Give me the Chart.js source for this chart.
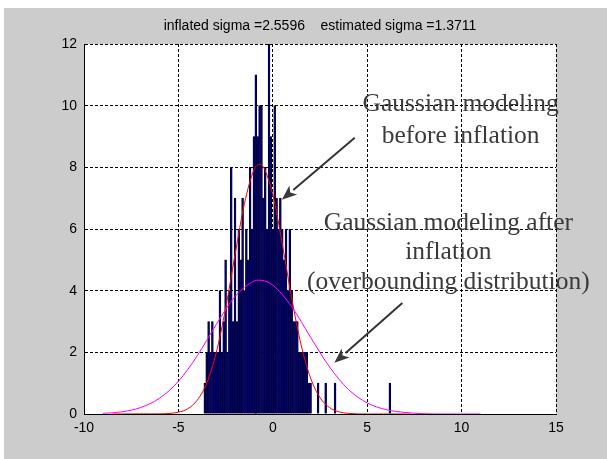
<!DOCTYPE html>
<html>
<head>
<meta charset="utf-8">
<script src="https://cdn.jsdelivr.net/npm/chart.js@4/dist/chart.umd.min.js"></script>
<style>
  body { margin: 0; background: #fff; }
  canvas { display: block; }
</style>
</head>
<body>
<canvas id="myChart" width="607" height="459"></canvas>
<script>
// histogram bins (bin centres) and counts
var binCenters = [-3.6, -3.5, -3.4, -3.3, -3.2, -3.1, -3.0, -2.9, -2.8, -2.7, -2.6, -2.5, -2.4, -2.3, -2.2, -2.1, -2.0,
  -1.9, -1.8, -1.7, -1.6, -1.5, -1.4, -1.3, -1.2, -1.1, -1.0, -0.9, -0.8, -0.7, -0.6, -0.5, -0.4, -0.3, -0.2, -0.1, 0.0,
  0.1, 0.2, 0.3, 0.4, 0.5, 0.6, 0.7, 0.8, 0.9, 1.0, 1.1, 1.2, 1.3, 1.4, 1.5, 1.6, 1.7, 1.8, 1.9, 2.0,
  2.4, 2.8, 3.3, 6.2];
var binCounts = [1, 2, 3, 2, 3, 2, 2, 2, 4, 2, 3, 5, 2, 4, 8, 3, 7,
  3, 6, 5, 7, 4, 6, 5, 8, 6, 9, 11, 9, 10, 10, 7, 8, 6, 12, 9, 6,
  10, 7, 6, 7, 6, 5, 6, 4, 6, 4, 3, 3, 3, 2, 2, 2, 2, 2, 1, 1,
  1, 1, 1, 1];

// gaussian before inflation (red)
var redX = [-8.5, -6, -5, -4.5, -4, -3.5, -3, -2.5, -2, -1.5, -1, -0.7, -0.5, 0, 0.5, 1, 1.5, 2, 2.5, 3, 3.5, 4, 5, 7.3];
var redY = [0, 0.005, 0.06, 0.17, 0.45, 1.0, 1.98, 3.42, 5.17, 6.83, 7.91, 8.1, 8.01, 7.11, 5.52, 3.76, 2.24, 1.17, 0.53, 0.21, 0.07, 0.02, 0, 0];

// gaussian after inflation (magenta)
var magX = [-9, -8, -7, -6, -5, -4, -3, -2, -1, -0.7, 0, 1, 2, 3, 4, 5, 6, 7, 8, 9, 11];
var magY = [0.02, 0.07, 0.21, 0.51, 1.06, 1.89, 2.9, 3.81, 4.31, 4.34, 4.18, 3.48, 2.49, 1.53, 0.8, 0.36, 0.14, 0.05, 0.01, 0, 0];

var xTicks = [-10, -5, 0, 5, 10, 15];
var yTicks = [0, 2, 4, 6, 8, 10, 12];
var titleText = 'inflated sigma =2.5596    estimated sigma =1.3711';

function pts(xs, ys) {
  var out = [];
  for (let i = 0; i < xs.length; i++) out.push({x: xs[i], y: ys[i]});
  return out;
}

// gray figure background + white axes area
var bgPlugin = {
  id: 'bg',
  beforeDraw: function(chart) {
    var c = chart.ctx, a = chart.chartArea;
    c.save();
    c.fillStyle = '#fff';
    c.fillRect(0, 0, chart.width, chart.height);
    c.fillStyle = '#cccccc';
    c.fillRect(4, 8, chart.width - 4, chart.height - 8);
    c.fillStyle = '#fff';
    c.fillRect(a.left, a.top, a.right - a.left, a.bottom - a.top);
    c.restore();
  }
};

function arrow(c, x1, y1, x2, y2) {
  var ang = Math.atan2(y2 - y1, x2 - x1);
  var len = 15, w = 6;
  var bx = x2 - len * Math.cos(ang), by = y2 - len * Math.sin(ang);
  c.beginPath();
  c.moveTo(x1, y1);
  c.lineTo(bx, by);
  c.stroke();
  c.beginPath();
  c.moveTo(x2, y2);
  c.lineTo(bx + w * Math.sin(ang), by - w * Math.cos(ang));
  c.lineTo(bx + 4 * Math.cos(ang), by + 4 * Math.sin(ang));
  c.lineTo(bx - w * Math.sin(ang), by + w * Math.cos(ang));
  c.closePath();
  c.fill();
}

var notePlugin = {
  id: 'notes',
  afterDraw: function(chart) {
    var c = chart.ctx, sx = chart.scales.x, sy = chart.scales.y;
    var px = v => sx.getPixelForValue(v), py = v => sy.getPixelForValue(v);
    c.save();
    c.fillStyle = '#3a3a3a';
    c.strokeStyle = '#333';
    c.lineWidth = 2;
    c.font = '25.5px "Liberation Serif", "Times New Roman", serif';
    c.textAlign = 'center';
    c.textBaseline = 'middle';
    c.fillText('Gaussian modeling', px(9.95), py(10.05));
    c.fillText('before inflation', px(9.95), py(9.0));
    c.fillText('Gaussian modeling after', px(9.3), py(6.2));
    c.fillText('inflation', px(9.3), py(5.25));
    c.fillText('(overbounding distribution)', px(9.3), py(4.28));
    arrow(c, px(4.34), py(8.96), px(0.48), py(6.95));
    arrow(c, px(6.86), py(3.6), px(3.26), py(1.66));
    c.restore();
  }
};

var tickFont = {family: '"Liberation Sans", Arial, sans-serif', size: 14};

var ctx = document.getElementById('myChart').getContext('2d');
var myChart = new Chart(ctx, {
  type: 'bar',
  data: {
    datasets: [
      {
        type: 'line',
        label: 'after inflation',
        data: pts(magX, magY),
        borderColor: '#ff00ff',
        borderWidth: 1,
        pointRadius: 0,
        cubicInterpolationMode: 'monotone',
        order: 0
      },
      {
        type: 'line',
        label: 'before inflation',
        data: pts(redX, redY),
        borderColor: '#ff0000',
        borderWidth: 1,
        pointRadius: 0,
        cubicInterpolationMode: 'monotone',
        order: 1
      },
      {
        type: 'bar',
        label: 'histogram',
        data: pts(binCenters, binCounts),
        backgroundColor: '#000080',
        borderColor: '#000000',
        borderWidth: 0.6,
        barPercentage: 1,
        categoryPercentage: 1,
        order: 2
      }
    ]
  },
  options: {
    responsive: false,
    animation: false,
    layout: { padding: { left: 0, right: 51, top: 0, bottom: 0 } },
    plugins: {
      legend: { display: false },
      tooltip: { enabled: false },
      title: {
        display: true,
        text: titleText,
        fullSize: false,
        color: '#000',
        font: { family: '"Liberation Sans", Arial, sans-serif', size: 14, weight: 'normal', lineHeight: 1.2 },
        padding: { top: 17.6, bottom: 9.6 }
      }
    },
    scales: {
      x: {
        type: 'linear',
        min: xTicks[0],
        max: xTicks[xTicks.length - 1],
        offset: false,
        afterBuildTicks: function(s) { s.ticks = xTicks.map(v => ({value: v})); },
        afterFit: function(s) { s.height = 45; },
        ticks: { color: '#000', font: tickFont, padding: 6, maxRotation: 0 },
        grid: { color: '#000', lineWidth: 1, drawTicks: false, offset: false },
        border: { color: '#000', width: 1, dash: [3, 2] }
      },
      y: {
        min: yTicks[0],
        max: yTicks[yTicks.length - 1],
        afterBuildTicks: function(s) { s.ticks = yTicks.map(v => ({value: v})); },
        afterFit: function(s) { s.width = 84; },
        ticks: { color: '#000', font: tickFont, padding: 7 },
        grid: { color: '#000', lineWidth: 1, drawTicks: false },
        border: { color: '#000', width: 1, dash: [3, 2] }
      }
    }
  },
  plugins: [bgPlugin, notePlugin]
});
</script>
</body>
</html>
